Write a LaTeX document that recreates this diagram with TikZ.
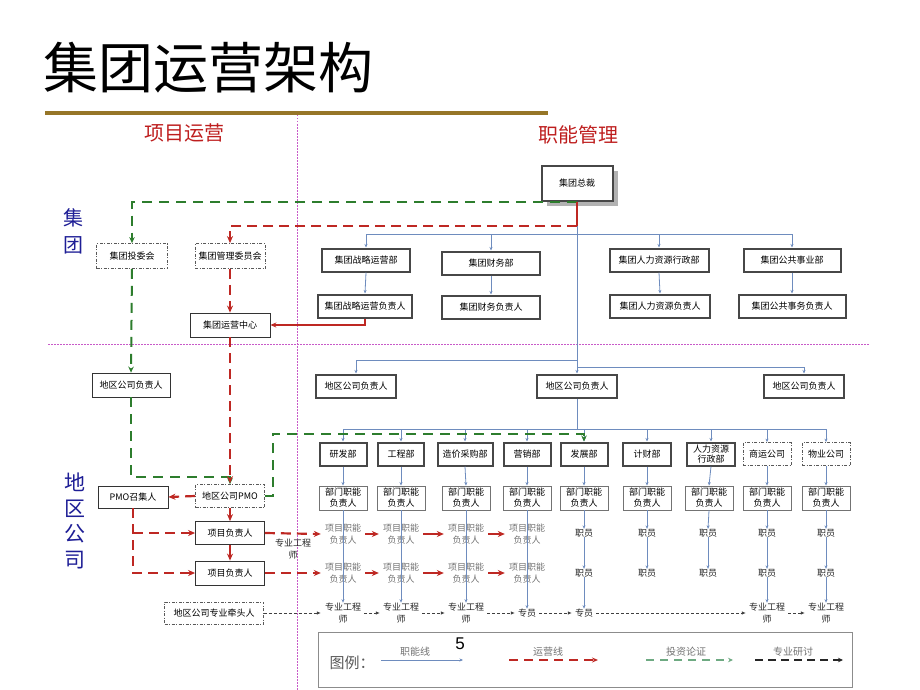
\documentclass[tikz,border=0pt]{standalone}
\usepackage{fontspec}
\setmainfont{Noto Sans CJK SC}
\newfontfamily\arialfont{Liberation Sans}
\usetikzlibrary{arrows.meta,shadows,calc}
\definecolor{sepc}{RGB}{200,90,200}
\definecolor{gold}{RGB}{150,118,40}
\definecolor{hred}{RGB}{190,30,30}
\definecolor{vblue}{RGB}{30,30,150}
\definecolor{fblue}{RGB}{110,140,190}
\definecolor{ored}{RGB}{190,40,35}
\definecolor{igreen}{RGB}{45,125,45}
\definecolor{lgreen}{RGB}{110,170,130}
\begin{document}
\begin{tikzpicture}[x=1pt,y=-1pt, font=\fontsize{9}{11}\selectfont,
 thickbox/.style={draw=black!72, line width=2pt, fill=white, inner sep=1pt, minimum height=23pt, align=center, font=\fontsize{9}{10}\selectfont},
 thinbox/.style={draw=black!80, line width=0.8pt, fill=white, inner sep=1pt, minimum height=23pt},
 graybox/.style={draw=black!55, line width=0.9pt, fill=white, inner sep=1pt, minimum height=24pt, minimum width=48pt, align=center, font=\fontsize{9}{11}\selectfont},
 dashbox/.style={draw=black!65, line width=0.8pt, dash pattern=on 3pt off 1.5pt on 1pt off 1.5pt, fill=white, inner sep=1pt, minimum height=23pt},
 graytxt/.style={text=black!55, align=center, font=\fontsize{9}{12}\selectfont, inner sep=0pt},
 plaintxt/.style={text=black!85, align=center, font=\fontsize{9}{12}\selectfont, inner sep=0pt},
 fline/.style={fblue, line width=0.8pt, -{Stealth[length=3.5pt,width=3pt]}},
 fplain/.style={fblue, line width=0.8pt},
 oline/.style={ored, line width=2.2pt, dash pattern=on 10pt off 6pt, -{Stealth[length=7pt,width=6pt]}},
 osolid/.style={ored, line width=2.2pt, -{Stealth[length=7pt,width=6pt]}},
 iline/.style={igreen, line width=2pt, dash pattern=on 10pt off 7pt, -{Stealth[length=6pt,width=5.5pt]}},
 pline/.style={black!75, line width=0.7pt, dash pattern=on 3pt off 2pt, -{Latex[length=4pt,width=3.5pt]}},
 sep/.style={sepc, line width=0.8pt, dash pattern=on 1.5pt off 1.5pt},
]
\fill[white] (0,0) rectangle (920,690);
\useasboundingbox (0,0) rectangle (920,690);

% title
\node[anchor=west, inner sep=0pt, font=\fontsize{55}{60}\selectfont] (title) at (43,68) {集团运营架构};
\draw[gold, line width=4pt] (45,113) -- (548,113);

% separators
\draw[sep] (297,115) -- (297,690);
\draw[sep] (48,344) -- (870,344);

% headings
\node[hred, font=\fontsize{20}{22}\selectfont] (h1) at (184,133) {项目运营};
\node[hred, font=\fontsize{20}{22}\selectfont] (h2) at (578,135) {职能管理};
\node[vblue, font=\fontsize{20}{27}\selectfont, align=center, inner sep=0pt] (v1) at (73,231) {集\\团};
\node[vblue, font=\fontsize{21}{25.7}\selectfont, align=center, inner sep=0pt] (v2) at (75,521) {地\\区\\公\\司};

% group level
\node[thickbox, minimum width=71pt, minimum height=35pt, drop shadow={shadow xshift=5pt, shadow yshift=-5pt, fill=black!30, opacity=1}] (zc) at (577,183) {集团总裁};
\node[thickbox, minimum width=88pt] (d1) at (366,260) {集团战略运营部};
\node[thickbox, minimum width=98pt] (d2) at (491,263) {集团财务部};
\node[thickbox, minimum width=99pt] (d3) at (659,260) {集团人力资源行政部};
\node[thickbox, minimum width=97pt] (d4) at (792,260) {集团公共事业部};
\node[thickbox, minimum width=94pt] (r1) at (365,306) {集团战略运营负责人};
\node[thickbox, minimum width=98pt] (r2) at (491,307) {集团财务负责人};
\node[thickbox, minimum width=100pt] (r3) at (660,306) {集团人力资源负责人};
\node[thickbox, minimum width=107pt] (r4) at (792,306) {集团公共事务负责人};

\node[dashbox, minimum width=71pt, minimum height=25pt] (tw) at (132,256) {集团投委会};
\node[dashbox, minimum width=70pt, minimum height=25pt] (gl) at (230,256) {集团管理委员会};
\node[thinbox, minimum width=80pt, minimum height=24pt] (oc) at (230,325) {集团运营中心};

% region level
\node[thickbox, minimum width=80pt] (g1) at (356,386) {地区公司负责人};
\node[thickbox, minimum width=80pt] (g2) at (577,386) {地区公司负责人};
\node[thickbox, minimum width=80pt] (g3) at (804,386) {地区公司负责人};
\node[thinbox, minimum width=78pt, minimum height=24pt] (lg) at (131,385) {地区公司负责人};

\node[dashbox, minimum width=69pt] (pmo) at (230,496) {地区公司PMO};
\node[thinbox, minimum width=70pt, minimum height=22pt] (pz) at (133,497) {PMO召集人};
\node[thinbox, minimum width=69pt] (p1) at (230,533) {项目负责人};
\node[thinbox, minimum width=69pt, minimum height=24pt] (p2) at (230,573) {项目负责人};
\node[dashbox, minimum width=99pt, minimum height=22pt] (qt) at (214,613) {地区公司专业牵头人};
\node[plaintxt, font=\fontsize{9}{12}\selectfont] (zgl) at (293,549) {专业工程\\师};

% department columns
\node[thickbox, minimum width=47pt] (k1) at (343,454) {研发部};
\node[thickbox, minimum width=46pt] (k2) at (401,454) {工程部};
\node[thickbox, minimum width=55pt] (k3) at (465,454) {造价采购部};
\node[thickbox, minimum width=47pt] (k4) at (527,454) {营销部};
\node[thickbox, minimum width=47pt] (k5) at (584,454) {发展部};
\node[thickbox, minimum width=48pt] (k6) at (647,454) {计财部};
\node[thickbox, minimum width=48pt] (k7) at (711,454) {人力资源\\行政部};
\node[dashbox, minimum width=48pt] (k8) at (767,454) {商运公司};
\node[dashbox, minimum width=48pt] (k9) at (826,454) {物业公司};

\foreach \i/\x in {1/343,2/401,3/466,4/527,5/584,6/647,7/709,8/767,9/826}{
  \node[graybox] (b\i) at (\x,498) {部门职能\\负责人};
}
\foreach \i/\x in {1/343,2/401,3/466,4/527}{
  \node[graytxt] (t\i) at (\x,534) {项目职能\\负责人};
  \node[graytxt] (u\i) at (\x,573) {项目职能\\负责人};
}
\foreach \i/\x in {5/584,6/647,7/708,8/767,9/826}{
  \node[plaintxt] (y\i) at (\x,533) {职员};
  \node[plaintxt] (z\i) at (\x,573) {职员};
}
\foreach \i/\x in {1/343,2/401,3/466,8/767,9/826}{
  \node[plaintxt] (e\i) at (\x,613) {专业工程\\师};
}
\node[plaintxt] (e4) at (527,613) {专员};
\node[plaintxt] (e5) at (584,613) {专员};

% functional (blue) lines
\coordinate (bj1) at (577,234);
\coordinate (bj2) at (577,360);
\coordinate (bj3) at (577,367);
\coordinate (bj4) at (577,429);
\draw[fplain] (zc.south) -- (bj3);
\draw[fplain] (d1.north |- bj1) -- (d4.north |- bj1);
\foreach \i in {1,2,3,4}{
  \draw[fline] (d\i.north |- bj1) -- (d\i.north);
  \draw[fline] (d\i.south) -- (r\i.north);
}
\draw[fline] (bj2) -| (g1.north);
\draw[fline] (bj2) -- (g2.north);
\draw[fline] (bj3) -| (g3.north);
\draw[fplain] (g2.south) -- (bj4);
\draw[fplain] (k1.north |- bj4) -- (k9.north |- bj4);
\foreach \i in {1,...,9}{
  \draw[fline] (k\i.north |- bj4) -- (k\i.north);
  \draw[fline] (k\i.south) -- (b\i.north);
}
\foreach \i in {1,2,3,4}{
  \draw[fline] (b\i.south) -- (e\i.north);
}
\foreach \i in {5,6,7,8,9}{
  \draw[fline] (b\i.south) -- (y\i.north);
  \draw[fline] (y\i.south) -- (z\i.north);
}
\draw[fline] (z5.south) -- (e5.north);
\draw[fline] (z8.south) -- (e8.north);
\draw[fline] (z9.south) -- (e9.north);

% investment (green) lines
\draw[iline] (zc.south) -| (tw.north);
\draw[iline] (tw.south) -- (lg.north);
\draw[iline] (lg.south) |- ($(pmo.north)+(0,-7)$) -- (pmo.north);
\draw[iline] (pmo.east) -- ++(8,0) |- ($(k5.north)+(0,-8)$) -- (k5.north);

% operation (red) lines
\draw[ored, line width=1.5pt] (zc.south) -- (577,226) coordinate (rj1);
\draw[oline] (rj1) -| (gl.north);
\draw[oline] (gl.south) -- (oc.north);
\draw[ored, line width=1.5pt, -{Stealth[length=6pt,width=5pt]}] (r1.south) |- (oc.east);
\draw[oline] (oc.south) -- ($(pmo.north)+(0,-1)$);
\draw[oline] (pmo.west) -- (pz.east);
\draw[osolid] (pmo.south) -- (p1.north);
\draw[osolid] (p1.south) -- (p2.north);
\draw[oline] (pz.south) |- (p2.west);
\draw[oline] (pz.south |- p1.west) -- (p1.west);
\draw[oline] (p1.east) -- ($(t1.west)+(-4,0)$);
\draw[oline] (p2.east) -- ($(u1.west)+(-4,0)$);
\foreach \a/\b in {1/2,2/3,3/4}{
  \draw[osolid] ($(t\a.east)+(4,0)$) -- ($(t\b.west)+(-4,0)$);
  \draw[osolid] ($(u\a.east)+(4,0)$) -- ($(u\b.west)+(-4,0)$);
}

% professional (black dashed) lines
\draw[pline] (qt.east) -- ($(e1.west)+(-4,0)$);
\foreach \a/\b in {1/2,2/3,3/4,4/5,5/8,8/9}{
  \draw[pline] ($(e\a.east)+(3,0)$) -- ($(e\b.west)+(-3,0)$);
}

% legend
\node[draw=black!45, line width=0.8pt, minimum width=534pt, minimum height=55pt] (lgd) at (585,659.5) {};
\node[text=black!65, font=\fontsize{15}{16}\selectfont] (lgt) at (352,663) {图例：};
\draw[fline, line width=1pt] (381,660) -- (463,660);
\node[text=black!55, font=\fontsize{10}{11}\selectfont] (l1) at (415,652) {职能线};
\node[font=\arialfont\fontsize{17}{18}\selectfont] (pg) at (460,644) {5};
\draw[ored, line width=1.8pt, dash pattern=on 9pt off 6pt, -{Stealth[length=6pt,width=5pt]}] (509,660) -- (598,660);
\node[text=black!55, font=\fontsize{10}{11}\selectfont] (l2) at (548,652) {运营线};
\draw[lgreen, line width=1.3pt, dash pattern=on 8pt off 6pt, -{Stealth[length=5pt,width=4.5pt]}] (646,660) -- (733,660);
\node[text=black!55, font=\fontsize{10}{11}\selectfont] (l3) at (686,652) {投资论证};
\draw[black!85, line width=1.3pt, dash pattern=on 8pt off 5pt, -{Stealth[length=5pt,width=4.5pt]}] (755,660) -- (843,660);
\node[text=black!55, font=\fontsize{10}{11}\selectfont] (l4) at (793,652) {专业研讨};
\end{tikzpicture}
\end{document}
